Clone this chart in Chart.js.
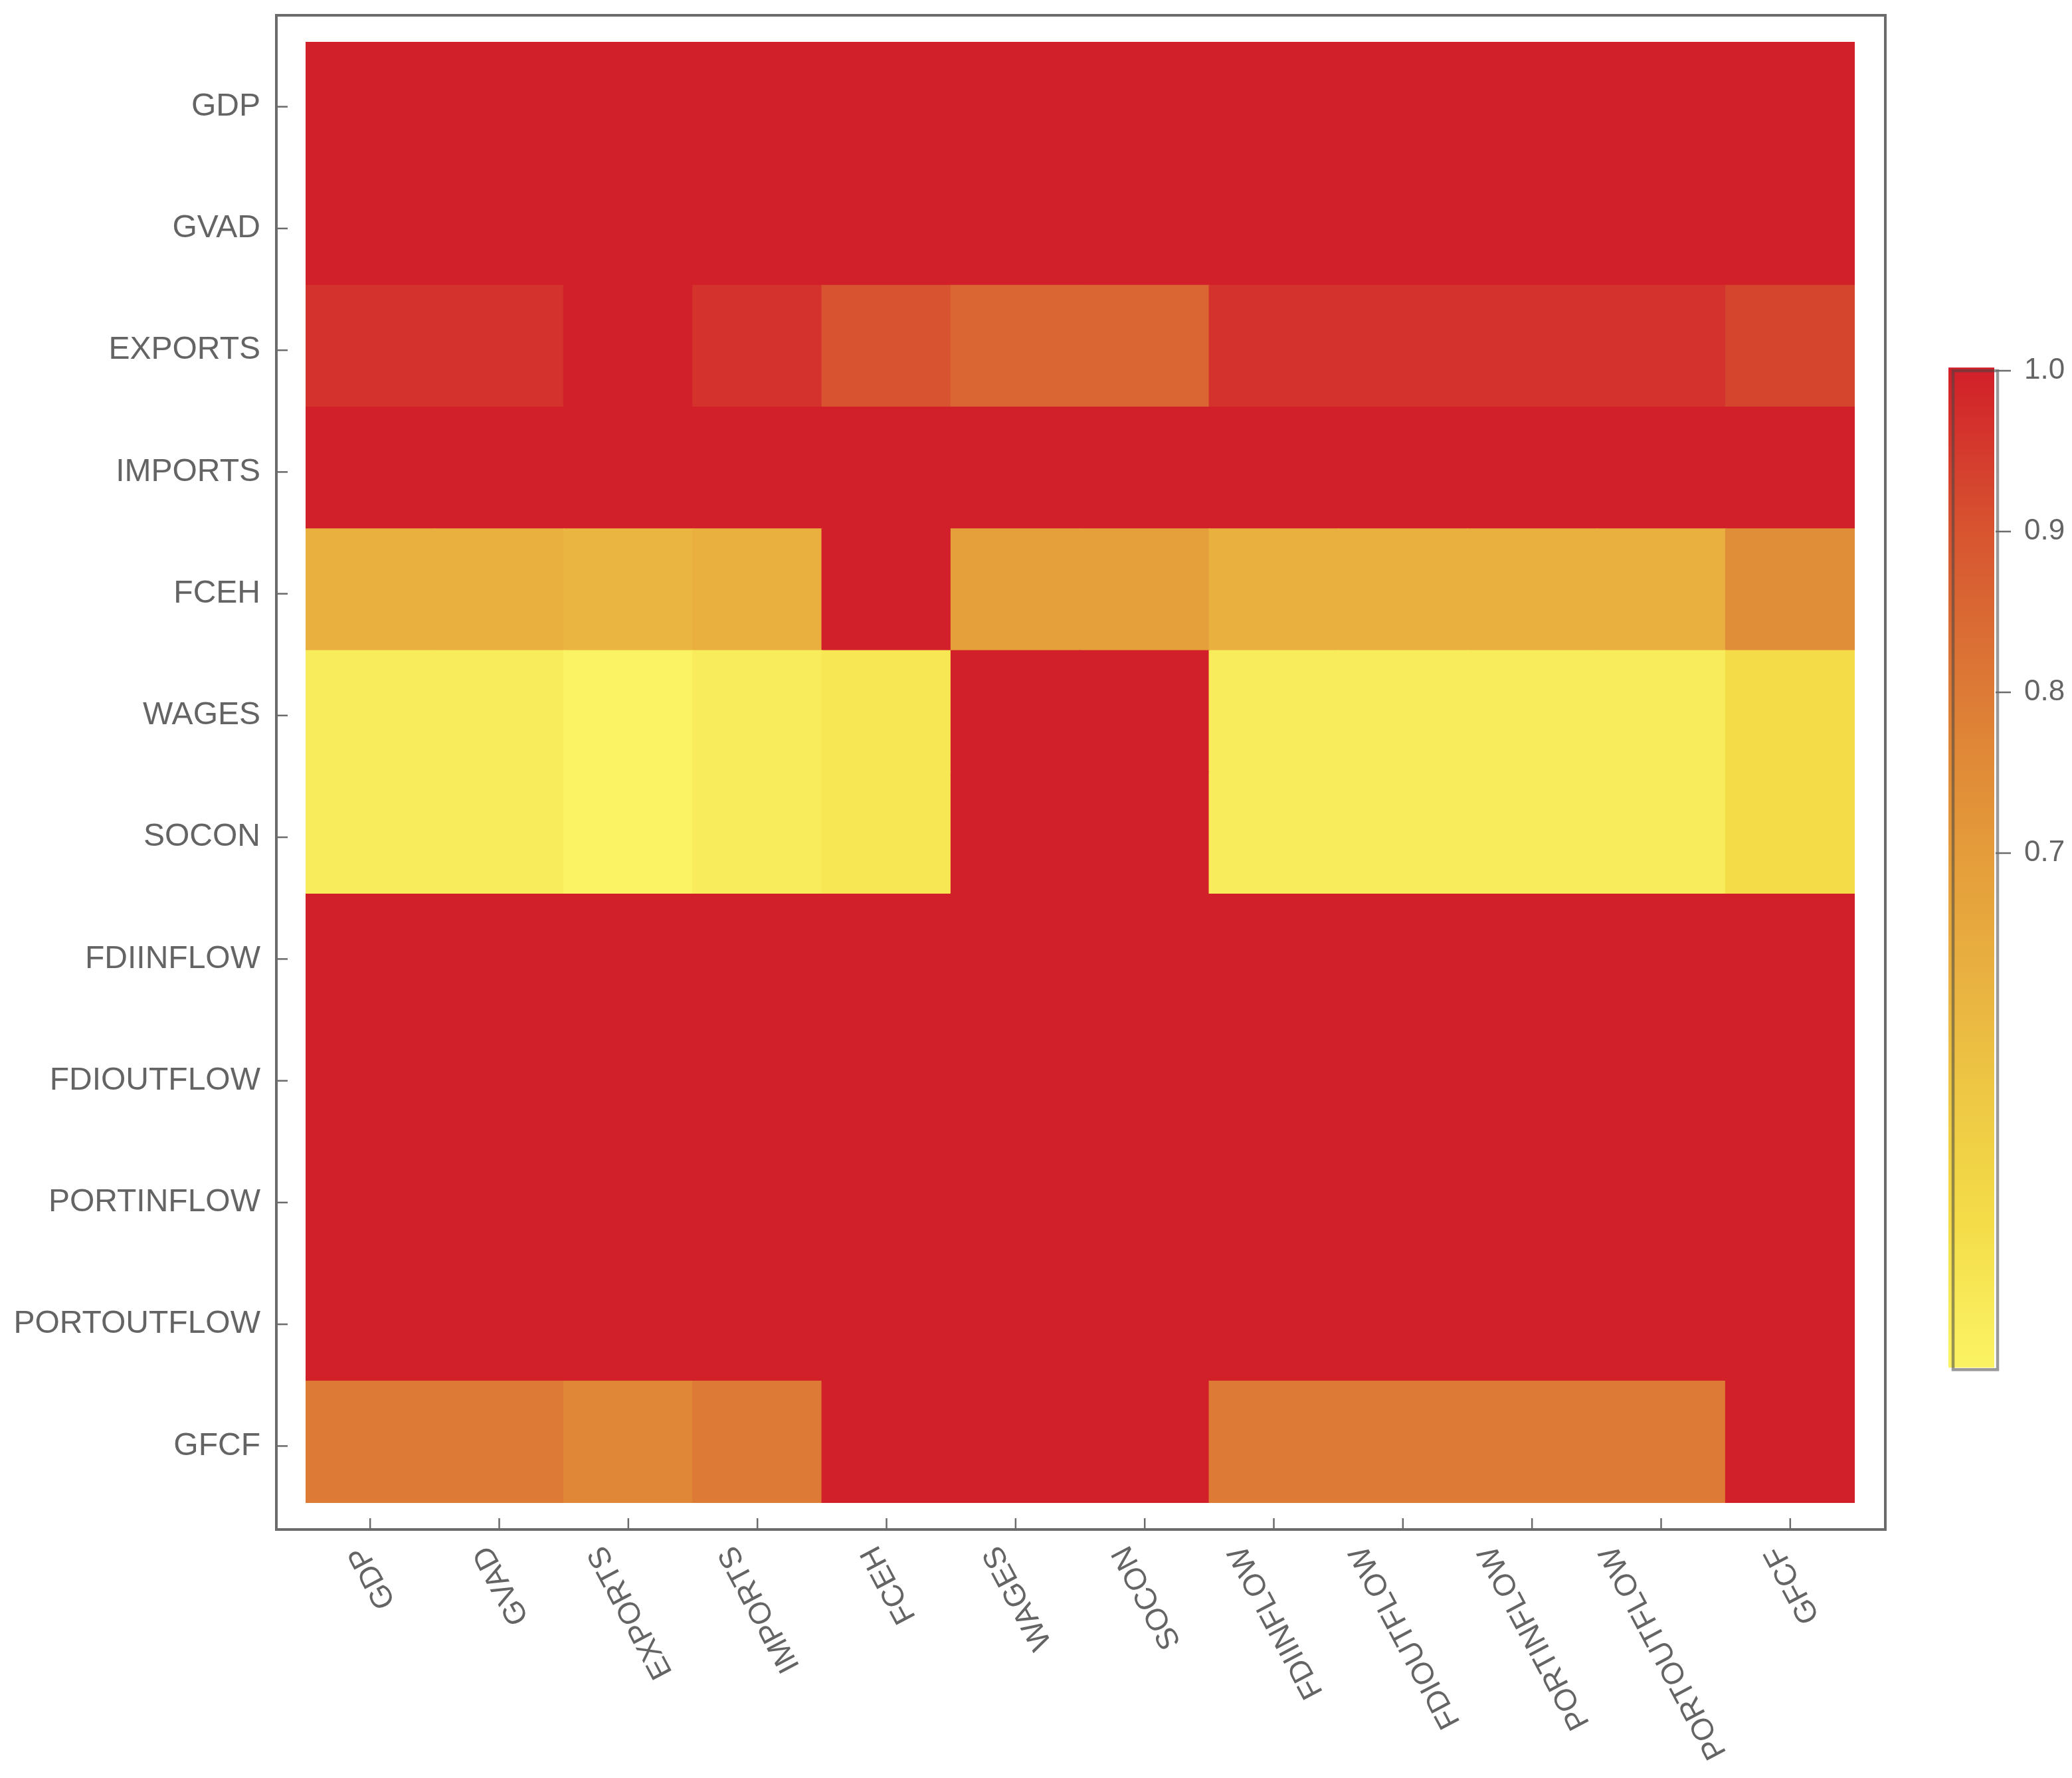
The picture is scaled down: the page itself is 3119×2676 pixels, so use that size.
<!DOCTYPE html>
<html>
<head>
<meta charset="utf-8">
<script src="https://cdn.jsdelivr.net/npm/chart.js@4"></script>
<style>
  html, body { margin: 0; padding: 0; background: #ffffff; }
  #c { display: block; width: 3119px; height: 2676px; }
</style>
</head>
<body>
<canvas id="c" width="3119" height="2676"></canvas>
<script>
// ---------- data ----------
const columns = ["GDP", "GVAD", "EXPORTS", "IMPORTS", "FCEH", "WAGES", "SOCON",
                 "FDIINFLOW", "FDIOUTFLOW", "PORTINFLOW", "PORTOUTFLOW", "GFCF"];
const rows = ["GDP", "GVAD", "EXPORTS", "IMPORTS", "FCEH", "WAGES", "SOCON",
              "FDIINFLOW", "FDIOUTFLOW", "PORTINFLOW", "PORTOUTFLOW", "GFCF"];

const rowGDP         = [1.0, 1.0, 1.0, 1.0, 1.0, 1.0, 1.0, 1.0, 1.0, 1.0, 1.0, 1.0];
const rowGVAD        = [1.0, 1.0, 1.0, 1.0, 1.0, 1.0, 1.0, 1.0, 1.0, 1.0, 1.0, 1.0];
const rowEXPORTS     = [0.965, 0.965, 1.0, 0.965, 0.90, 0.855, 0.855, 0.965, 0.965, 0.965, 0.965, 0.93];
const rowIMPORTS     = [1.0, 1.0, 1.0, 1.0, 1.0, 1.0, 1.0, 1.0, 1.0, 1.0, 1.0, 1.0];
const rowFCEH        = [0.627, 0.627, 0.61, 0.627, 1.0, 0.69, 0.69, 0.627, 0.627, 0.627, 0.627, 0.745];
const rowWAGES       = [0.41, 0.41, 0.38, 0.41, 0.43, 1.0, 1.0, 0.41, 0.41, 0.41, 0.41, 0.47];
const rowSOCON       = [0.41, 0.41, 0.38, 0.41, 0.43, 1.0, 1.0, 0.41, 0.41, 0.41, 0.41, 0.47];
const rowFDIINFLOW   = [1.0, 1.0, 1.0, 1.0, 1.0, 1.0, 1.0, 1.0, 1.0, 1.0, 1.0, 1.0];
const rowFDIOUTFLOW  = [1.0, 1.0, 1.0, 1.0, 1.0, 1.0, 1.0, 1.0, 1.0, 1.0, 1.0, 1.0];
const rowPORTINFLOW  = [1.0, 1.0, 1.0, 1.0, 1.0, 1.0, 1.0, 1.0, 1.0, 1.0, 1.0, 1.0];
const rowPORTOUTFLOW = [1.0, 1.0, 1.0, 1.0, 1.0, 1.0, 1.0, 1.0, 1.0, 1.0, 1.0, 1.0];
const rowGFCF        = [0.80, 0.80, 0.765, 0.80, 1.0, 1.0, 1.0, 0.80, 0.80, 0.80, 0.80, 1.0];

const colorbarTicks = [1.0, 0.9, 0.8, 0.7];
const colorbarMin = 0.38;
const colorbarMax = 1.002;

// ---------- colour map ----------
const cmapStops = [
  [0.38,  [251, 243, 99]],
  [0.41,  [249, 236, 92]],
  [0.47,  [244, 220, 72]],
  [0.55,  [238, 200, 68]],
  [0.62,  [233, 178, 65]],
  [0.69,  [229, 159, 59]],
  [0.76,  [224, 137, 55]],
  [0.80,  [221, 123, 54]],
  [0.855, [217, 102, 51]],
  [0.90,  [216, 84, 48]],
  [0.93,  [213, 69, 46]],
  [0.965, [212, 50, 44]],
  [1.0,   [209, 32, 41]]
];
function cmap(v) {
  if (v <= cmapStops[0][0]) return 'rgb(' + cmapStops[0][1].join(',') + ')';
  for (let i = 1; i < cmapStops.length; i++) {
    const [v1, c1] = cmapStops[i];
    const [v0, c0] = cmapStops[i - 1];
    if (v <= v1) {
      const t = (v - v0) / (v1 - v0);
      const c = c0.map((a, k) => Math.round(a + (c1[k] - a) * t));
      return 'rgb(' + c.join(',') + ')';
    }
  }
  return 'rgb(' + cmapStops[cmapStops.length - 1][1].join(',') + ')';
}

const matrix = [rowGDP, rowGVAD, rowEXPORTS, rowIMPORTS, rowFCEH, rowWAGES, rowSOCON,
                rowFDIINFLOW, rowFDIOUTFLOW, rowPORTINFLOW, rowPORTOUTFLOW, rowGFCF];
const nRows = rows.length;

// dataset k is drawn at band [k, k+1] from the bottom => row index nRows-1-k
const datasets = [];
for (let k = 0; k < nRows; k++) {
  const r = nRows - 1 - k;
  datasets.push({
    label: rows[r],
    data: columns.map(() => [k, k + 1]),
    backgroundColor: matrix[r].map(cmap),
    borderWidth: 0,
    borderSkipped: false,
    inflateAmount: 0.8,
    barPercentage: 1.0,
    categoryPercentage: 1.0,
    grouped: false
  });
}

const FONT = '"Liberation Sans", Arial, sans-serif';
const TEXT = '#646464';
const LINE = '#6b6b6b';

const decorPlugin = {
  id: 'decor',
  afterDraw(chart) {
    const { ctx, chartArea: ca } = chart;
    const xs = chart.scales.x, ys = chart.scales.y;
    const fl = ca.left - 44, ft = ca.top - 40, fr = ca.right + 46, fb = ca.bottom + 40;
    ctx.save();
    // frame
    ctx.strokeStyle = LINE;
    ctx.lineWidth = 4;
    ctx.strokeRect(fl, ft, fr - fl, fb - ft);
    // ticks
    ctx.lineWidth = 2.5;
    ys.ticks.forEach(t => {
      const py = ys.getPixelForValue(t.value) + 6;
      ctx.beginPath(); ctx.moveTo(fl, py); ctx.lineTo(fl + 17, py); ctx.stroke();
    });
    columns.forEach((c, i) => {
      const px = xs.getPixelForValue(i);
      ctx.beginPath(); ctx.moveTo(px, fb); ctx.lineTo(px, fb - 17); ctx.stroke();
    });
    // x labels (rotated)
    ctx.fillStyle = TEXT;
    ctx.font = '46px ' + FONT;
    ctx.textAlign = 'center';
    ctx.textBaseline = 'middle';
    const a = 62 * Math.PI / 180;
    const h = 33;
    const topY = fb + 20;
    columns.forEach((c, i) => {
      const px = xs.getPixelForValue(i);
      const w = ctx.measureText(c).width;
      const H = w * Math.sin(a) + h * Math.cos(a);
      ctx.save();
      ctx.translate(px + 4, topY + H / 2);
      ctx.rotate(-(Math.PI - a));
      ctx.fillText(c, 0, 0);
      ctx.restore();
    });
    // colour bar
    const cbL = 2933, cbR = 3002;
    const cbTop0 = 558;           // pixel of value 1.0
    const pxPerUnit = 2420;
    const cbY = v => cbTop0 + (1.0 - v) * pxPerUnit;
    const yTop = cbY(colorbarMax), yBot = cbY(colorbarMin);
    const g = ctx.createLinearGradient(0, yTop, 0, yBot);
    g.addColorStop(0, cmap(colorbarMax));
    cmapStops.forEach(([v]) => {
      const off = (colorbarMax - v) / (colorbarMax - colorbarMin);
      if (off >= 0 && off <= 1) g.addColorStop(off, cmap(v));
    });
    ctx.fillStyle = g;
    ctx.fillRect(cbL, yTop, cbR - cbL, yBot - yTop);
    ctx.strokeStyle = 'rgba(70,70,70,0.55)';
    ctx.lineWidth = 4.5;
    ctx.strokeRect(cbL + 7, cbY(1.0), cbR - cbL - 2, yBot - cbY(1.0) + 3);
    ctx.strokeStyle = LINE;
    ctx.lineWidth = 2.5;
    ctx.fillStyle = TEXT;
    ctx.font = '44px ' + FONT;
    ctx.textAlign = 'left';
    ctx.textBaseline = 'middle';
    colorbarTicks.forEach(v => {
      const py = cbY(v);
      ctx.beginPath(); ctx.moveTo(cbR + 2, py); ctx.lineTo(cbR + 25, py); ctx.stroke();
      ctx.fillText(v.toFixed(1), 3047, py);
    });
    ctx.restore();
  }
};

new Chart(document.getElementById('c'), {
  type: 'bar',
  data: { labels: columns, datasets: datasets },
  options: {
    responsive: false,
    devicePixelRatio: 1,
    animation: false,
    layout: { padding: { left: 0, top: 63, right: 327, bottom: 0 } },
    plugins: { legend: { display: false }, tooltip: { enabled: false }, title: { display: false } },
    scales: {
      x: {
        type: 'category',
        grid: { display: false },
        border: { display: false },
        ticks: { display: false },
        afterFit: (scale) => { scale.height = 2676 - 2262; }
      },
      y: {
        type: 'linear',
        min: 0,
        max: nRows,
        grid: { display: false },
        border: { display: false },
        afterBuildTicks: (scale) => {
          scale.ticks = rows.map((_, i) => ({ value: i + 0.5 }));
        },
        ticks: {
          autoSkip: false,
          padding: 60,
          labelOffset: 6,
          color: TEXT,
          font: { family: FONT, size: 48 },
          callback: (value, index) => rows[nRows - 1 - index]
        },
        afterFit: (scale) => {
          scale.width = 460;
          scale.paddingTop = 0;
          scale.paddingBottom = 0;
        }
      }
    }
  },
  plugins: [decorPlugin]
});
</script>
</body>
</html>
